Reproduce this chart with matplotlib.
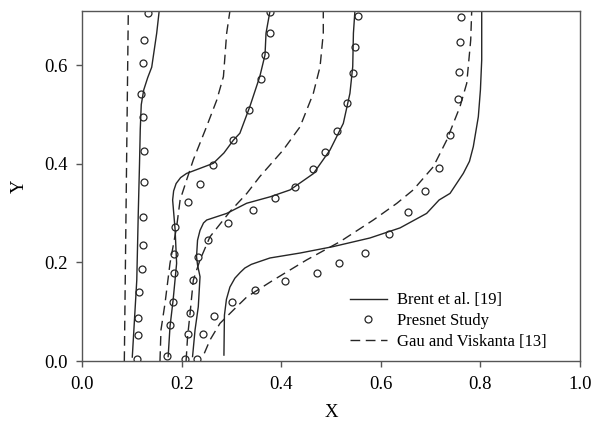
import matplotlib
matplotlib.use("Agg")
import matplotlib.pyplot as plt

plt.rcParams['font.family'] = ['Liberation Serif', 'DejaVu Serif']

# Brent et al. [19] - solid curves (x, y)
brent_1_x = [0.101, 0.110, 0.113, 0.1155, 0.117, 0.119, 0.124, 0.132, 0.140, 0.150, 0.155]
brent_1_y = [0.008, 0.164, 0.300, 0.400, 0.470, 0.520, 0.550, 0.575, 0.596, 0.665, 0.71]
brent_2_x = [0.173, 0.1767, 0.183, 0.190, 0.187, 0.182, 0.184, 0.189, 0.198, 0.210, 0.235, 0.2637,
             0.285, 0.304, 0.317, 0.337, 0.357, 0.3675, 0.3695, 0.3775]
brent_2_y = [0.009, 0.0696, 0.124, 0.198, 0.266, 0.3266, 0.345, 0.360, 0.372, 0.3805, 0.390, 0.401,
             0.422, 0.448, 0.462, 0.516, 0.577, 0.621, 0.665, 0.71]
brent_3_x = [0.222, 0.227, 0.2335, 0.237, 0.232, 0.230, 0.232, 0.237, 0.244, 0.2504, 0.2906, 0.3307,
             0.3775, 0.4177, 0.4645, 0.498, 0.5247, 0.538, 0.5436, 0.545, 0.548]
brent_3_y = [0.009, 0.063, 0.110, 0.171, 0.195, 0.2116, 0.245, 0.265, 0.280, 0.286, 0.2994, 0.320,
             0.333, 0.347, 0.380, 0.428, 0.482, 0.543, 0.597, 0.665, 0.71]
brent_4_x = [0.285, 0.286, 0.290, 0.297, 0.307, 0.318, 0.327, 0.340, 0.3554, 0.3775, 0.4378, 0.504,
             0.578, 0.6386, 0.692, 0.717, 0.739, 0.7657, 0.778, 0.7857, 0.7958, 0.800, 0.8026, 0.8026]
brent_4_y = [0.012, 0.093, 0.125, 0.150, 0.168, 0.180, 0.1886, 0.196, 0.2014, 0.209, 0.219, 0.232,
             0.2495, 0.270, 0.2994, 0.3266, 0.340, 0.3807, 0.405, 0.4347, 0.4955, 0.550, 0.6106, 0.71]

# Present study - open circles
study_1_x = [0.110, 0.112, 0.1125, 0.1145, 0.120, 0.122, 0.122, 0.1245, 0.1245, 0.122, 0.119,
             0.122, 0.1245, 0.133]
study_1_y = [0.004, 0.053, 0.0866, 0.140, 0.186, 0.2345, 0.2915, 0.3637, 0.4266, 0.494, 0.541,
             0.605, 0.651, 0.7065]
study_2_x = [0.170, 0.1767, 0.183, 0.185, 0.185, 0.187, 0.212, 0.237, 0.2625, 0.304, 0.336,
             0.3594, 0.3675, 0.3775, 0.3775]
study_2_y = [0.011, 0.074, 0.120, 0.178, 0.218, 0.272, 0.323, 0.359, 0.398, 0.448, 0.510,
             0.5726, 0.620, 0.666, 0.708]
study_3_x = [0.207, 0.2135, 0.2169, 0.2235, 0.2323, 0.2524, 0.2938, 0.343, 0.3876, 0.4277,
             0.4645, 0.488, 0.5114, 0.5315, 0.5436, 0.548, 0.555]
study_3_y = [0.004, 0.055, 0.0966, 0.164, 0.2116, 0.2454, 0.2806, 0.306, 0.330, 0.353,
             0.389, 0.4246, 0.467, 0.5225, 0.585, 0.636, 0.70]
study_4_x = [0.2303, 0.2436, 0.2657, 0.3006, 0.3474, 0.4076, 0.4713, 0.5167, 0.5683, 0.6165,
             0.654, 0.6888, 0.7175, 0.739, 0.7544, 0.757, 0.759, 0.761]
study_4_y = [0.004, 0.054, 0.091, 0.1203, 0.144, 0.1629, 0.1791, 0.1994, 0.2197, 0.2576,
             0.3016, 0.3442, 0.3909, 0.4584, 0.5306, 0.5856, 0.6477, 0.697]

# Gau and Viskanta [13] - dashed curves
gau_1_x = [0.085, 0.093]
gau_1_y = [0.0, 0.71]
gau_2_x = [0.1566, 0.1586, 0.1667, 0.1767, 0.190, 0.197, 0.210, 0.2235, 0.250, 0.2705, 0.284,
           0.2905, 0.297]
gau_2_y = [0.0, 0.063, 0.117, 0.198, 0.272, 0.3266, 0.367, 0.408, 0.475, 0.529, 0.577,
           0.665, 0.71]
gau_3_x = [0.209, 0.212, 0.217, 0.2235, 0.237, 0.257, 0.297, 0.331, 0.357, 0.404, 0.4378,
           0.4645, 0.478, 0.4845, 0.4845]
gau_3_y = [0.0, 0.049, 0.0966, 0.164, 0.205, 0.252, 0.303, 0.34, 0.374, 0.428, 0.475,
           0.543, 0.597, 0.665, 0.71]
gau_4_x = [0.2456, 0.257, 0.277, 0.3106, 0.331, 0.384, 0.451, 0.518, 0.585, 0.632, 0.665,
           0.7054, 0.7323, 0.759, 0.7725, 0.7805, 0.7825]
gau_4_y = [0.0156, 0.0426, 0.0763, 0.110, 0.130, 0.164, 0.205, 0.242, 0.286, 0.3197, 0.347,
           0.394, 0.448, 0.516, 0.5633, 0.651, 0.71]

brent = [(brent_1_x, brent_1_y), (brent_2_x, brent_2_y), (brent_3_x, brent_3_y), (brent_4_x, brent_4_y)]
study = [(study_1_x, study_1_y), (study_2_x, study_2_y), (study_3_x, study_3_y), (study_4_x, study_4_y)]
gau = [(gau_1_x, gau_1_y), (gau_2_x, gau_2_y), (gau_3_x, gau_3_y), (gau_4_x, gau_4_y)]

line_c = '#262626'

fig = plt.figure(figsize=(6.02, 4.29), dpi=100)
ax = fig.add_axes([0.1362, 0.1585, 0.8273, 0.8159])

for i, (x, y) in enumerate(brent):
    ax.plot(x, y, '-', color=line_c, lw=1.0, label='Brent et al. [19]' if i == 0 else None)
for i, (x, y) in enumerate(study):
    ax.plot(x, y, 'o', ls='none', ms=5, mfc='none', mec=line_c, mew=0.9,
            label='Presnet Study' if i == 0 else None)
for i, (x, y) in enumerate(gau):
    ax.plot(x, y, '--', color=line_c, lw=1.0, dashes=(7, 4),
            label='Gau and Viskanta [13]' if i == 0 else None)

ax.set_xlim(0, 1.0)
ax.set_ylim(0, 0.71)
ax.set_xticks([0.0, 0.2, 0.4, 0.6, 0.8, 1.0])
ax.set_yticks([0.0, 0.2, 0.4, 0.6])
ax.set_xticklabels(['0.0', '0.2', '0.4', '0.6', '0.8', '1.0'])
ax.set_yticklabels(['0.0', '0.2', '0.4', '0.6'])
ax.tick_params(direction='out', length=4, width=1, labelsize=13.5, colors='#555555',
               labelcolor='black', top=False, right=False)
ax.tick_params(axis='x', pad=7)
ax.tick_params(axis='y', pad=6)
for s in ax.spines.values():
    s.set_color('#555555')
    s.set_linewidth(1.0)

ax.set_xlabel('X', fontsize=13.5, labelpad=8)
ax.set_ylabel('Y', fontsize=13.5, labelpad=12)

ax.legend(loc='upper left', bbox_to_anchor=(0.538, 0.196), frameon=False, fontsize=12,
          handlelength=2.2, handletextpad=0.64, labelspacing=0.28, borderaxespad=0,
          borderpad=0)

fig.savefig('out.png', dpi=100)
